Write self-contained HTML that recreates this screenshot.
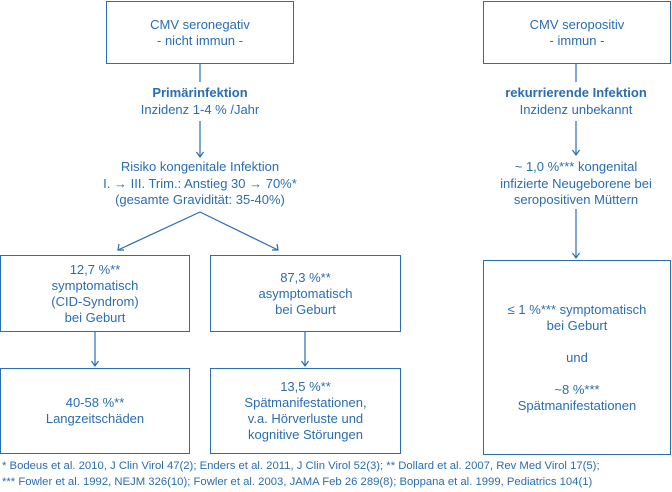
<!DOCTYPE html>
<html><head><meta charset="utf-8"><style>
body{margin:0;width:672px;height:492px;background:#fff;position:relative;overflow:hidden;font-family:"Liberation Sans",sans-serif;color:#2a6db0}
.b{position:absolute;border:1.3px solid #2a6db0;box-sizing:border-box;display:flex;align-items:center;justify-content:center;text-align:center;font-size:13px;line-height:16px}
.t{position:absolute;text-align:center;font-size:13px;line-height:16.5px;white-space:nowrap}
.f{position:absolute;left:2px;font-size:11.3px;white-space:nowrap}
svg{position:absolute;left:0;top:0}
</style></head><body>
<svg width="672" height="492" stroke="#2a6db0" stroke-width="1.2" fill="none">
<line x1="200" y1="63" x2="200" y2="82"/>
<line x1="200" y1="121" x2="200" y2="157"/><path d="M196.5 152 L200 157 L203.5 152"/>
<path d="M118 250 L200 212 L278 250"/><path d="M119 244 L118 250 L124 250"/><path d="M272 250 L278 250 L277 244"/>
<line x1="95" y1="332" x2="95" y2="366"/><path d="M91.5 361 L95 366 L98.5 361"/>
<line x1="305" y1="332" x2="305" y2="366"/><path d="M301.5 361 L305 366 L308.5 361"/>
<line x1="576" y1="63" x2="576" y2="82"/>
<line x1="576" y1="121" x2="576" y2="155"/><path d="M572.5 150 L576 155 L579.5 150"/>
<line x1="576" y1="209" x2="576" y2="258"/><path d="M572.5 253 L576 258 L579.5 253"/>
</svg>
<div class="b" style="left:106px;top:1px;width:188px;height:63px">CMV seronegativ<br>- nicht immun -</div>
<div class="b" style="left:483px;top:1px;width:188px;height:63px">CMV seropositiv<br>- immun -</div>
<div class="t" style="left:100px;width:200px;top:85px"><b>Primärinfektion</b><br>Inzidenz 1-4 % /Jahr</div>
<div class="t" style="left:476px;width:200px;top:85px"><b>rekurrierende Infektion</b><br>Inzidenz unbekannt</div>
<div class="t" style="left:50px;width:300px;top:159px">Risiko kongenitale Infektion<br>I. → III. Trim.: Anstieg 30 → 70%*<br>(gesamte Gravidität: 35-40%)</div>
<div class="t" style="left:476px;width:200px;top:159px">~ 1,0 %*** kongenital<br>infizierte Neugeborene bei<br>seropositiven Müttern</div>
<div class="b" style="left:0;top:255px;width:190px;height:77px">12,7 %**<br>symptomatisch<br>(CID-Syndrom)<br>bei Geburt</div>
<div class="b" style="left:210px;top:255px;width:191px;height:77px">87,3 %**<br>asymptomatisch<br>bei Geburt</div>
<div class="b" style="left:0;top:368px;width:190px;height:86px">40-58 %**<br>Langzeitschäden</div>
<div class="b" style="left:210px;top:368px;width:191px;height:86px">13,5 %**<br>Spätmanifestationen,<br>v.a. Hörverluste und<br>kognitive Störungen</div>
<div class="b" style="left:483px;top:260px;width:188px;height:195px">≤ 1 %*** symptomatisch<br>bei Geburt<br><br>und<br><br>~8 %***<br>Spätmanifestationen</div>
<div class="f" style="top:460px">* Bodeus et al. 2010, J Clin Virol 47(2); Enders et al. 2011, J Clin Virol 52(3); ** Dollard et al. 2007, Rev Med Virol 17(5);</div>
<div class="f" style="top:476px">*** Fowler et al. 1992, NEJM 326(10); Fowler et al. 2003, JAMA Feb 26 289(8); Boppana et al. 1999, Pediatrics 104(1)</div>
</body></html>
